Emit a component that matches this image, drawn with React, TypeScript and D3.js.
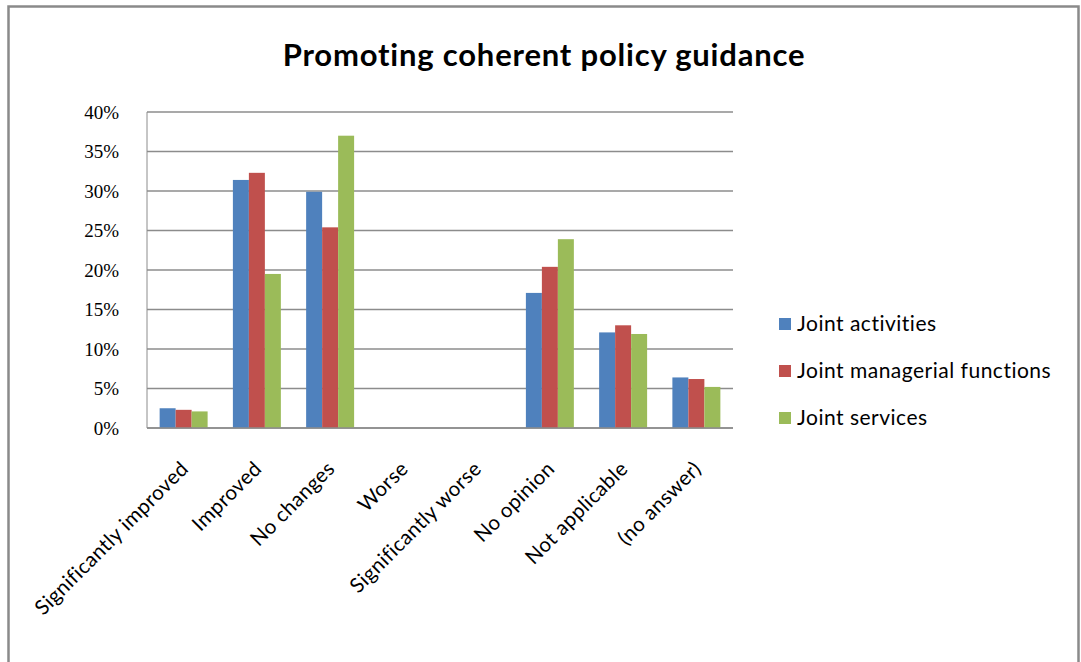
import React from "react";
import * as d3 from "d3";

const categories = [
  "Significantly improved",
  "Improved",
  "No changes",
  "Worse",
  "Significantly worse",
  "No opinion",
  "Not applicable",
  "(no answer)",
];
const seriesNames = ["Joint activities", "Joint managerial functions", "Joint services"];
const jointActivities = [2.5, 31.4, 29.9, 0, 0, 17.1, 12.1, 6.4];
const jointManagerial = [2.3, 32.3, 25.4, 0, 0, 20.4, 13.0, 6.2];
const jointServices = [2.1, 19.5, 37.0, 0, 0, 23.9, 11.9, 5.2];
const yTicks = [0, 5, 10, 15, 20, 25, 30, 35, 40];
const colors = ["#4F81BD", "#C0504D", "#9BBB59"];
const title = "Promoting coherent policy guidance";

const W = 1081;
const H = 662;
const plot = { left: 147, right: 733, top: 112, bottom: 428 };

export default function App() {
  const series = [jointActivities, jointManagerial, jointServices];
  const x = d3
    .scaleBand<string>()
    .domain(categories)
    .range([plot.left, plot.right])
    .paddingInner(0.345)
    .paddingOuter(0.1725);
  const inner = d3
    .scaleBand<number>()
    .domain([0, 1, 2])
    .range([0, x.bandwidth()]);
  const y = d3.scaleLinear().domain([0, 40]).range([plot.bottom, plot.top]);

  return (
    <svg
      width={W}
      height={H}
      style={{ position: "absolute", left: 0, top: 0, background: "#fff" }}
    >
      <rect x={0} y={0} width={W} height={H} fill="#fff" />
      {/* outer frame */}
      <rect x={8.5} y={6.5} width={1070} height={700} fill="none" stroke="#8a8a8a" strokeWidth={2.5} />
      {/* title */}
      <text
        x={544}
        y={66}
        textAnchor="middle"
        fontFamily="Lato, 'Open Sans', sans-serif"
        fontWeight="bold"
        fontSize={31}
        letterSpacing={0.8}
        fill="#000"
      >
        {title}
      </text>
      {/* gridlines */}
      {yTicks.map((t) => (
        <line
          key={t}
          x1={plot.left}
          x2={plot.right}
          y1={y(t)}
          y2={y(t)}
          stroke="#8c8c8c"
          strokeWidth={1.6}
        />
      ))}
      {/* plot area left border */}
      <line x1={plot.left} x2={plot.left} y1={plot.top} y2={plot.bottom} stroke="#8c8c8c" strokeWidth={1} />
      {/* y tick labels */}
      {yTicks.map((t) => (
        <text
          key={t}
          x={119}
          y={y(t)}
          dy="0.35em"
          textAnchor="end"
          fontFamily="'Liberation Serif', 'Times New Roman', serif"
          fontSize={19}
          fill="#000"
        >
          {t + "%"}
        </text>
      ))}
      {/* bars */}
      {series.map((vals, si) =>
        vals.map((v, ci) =>
          v > 0 ? (
            <rect
              key={si + "-" + ci}
              x={(x(categories[ci]) as number) + (inner(si) as number)}
              y={y(v)}
              width={inner.bandwidth()}
              height={y(0) - y(v)}
              fill={colors[si]}
            />
          ) : null
        )
      )}
      {/* x axis line */}
      <line x1={plot.left} x2={plot.right} y1={plot.bottom} y2={plot.bottom} stroke="#8c8c8c" strokeWidth={1.6} />
      {/* category labels */}
      {categories.map((c) => {
        const cx = (x(c) as number) + x.bandwidth() / 2;
        return (
          <text
            key={c}
            transform={`translate(${cx + 6},${plot.bottom + 42}) rotate(-45)`}
            textAnchor="end"
            fontFamily="Lato, 'Open Sans', sans-serif"
            fontSize={20.5}
            letterSpacing={0.4}
            fill="#000"
          >
            {c}
          </text>
        );
      })}
      {/* legend */}
      {seriesNames.map((n, i) => (
        <g key={n} transform={`translate(779, ${324 + i * 47})`}>
          <rect x={0} y={-6} width={12} height={12} fill={colors[i]} />
          <text
            x={18}
            y={0}
            dy="0.35em"
            fontFamily="Lato, 'Open Sans', sans-serif"
            fontSize={21}
            letterSpacing={0.5}
            fill="#000"
          >
            {n}
          </text>
        </g>
      ))}
    </svg>
  );
}
